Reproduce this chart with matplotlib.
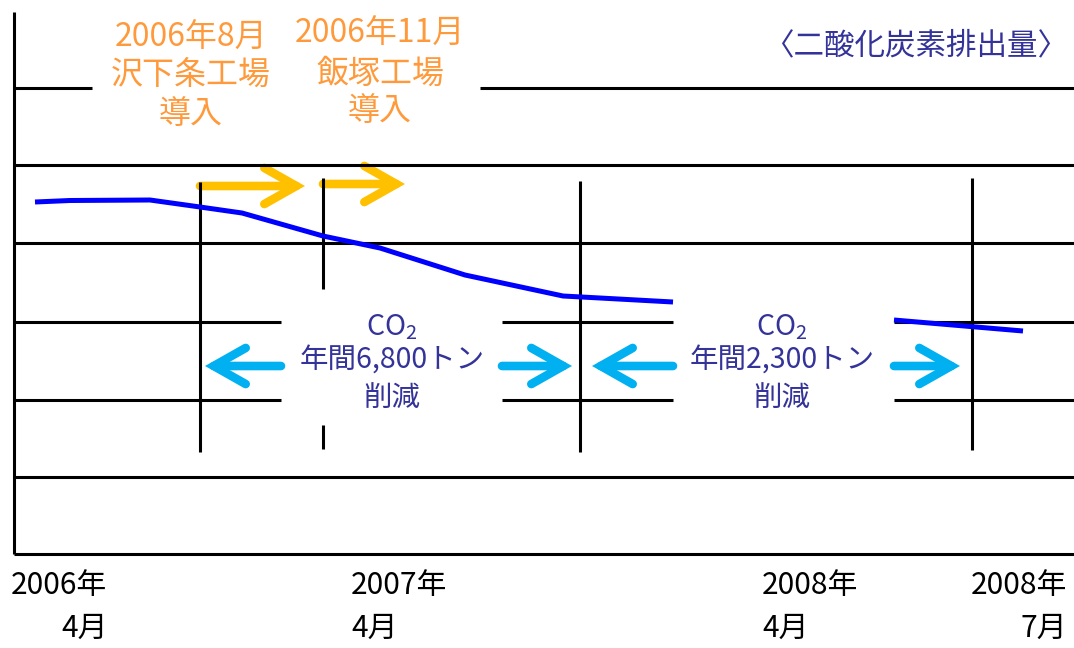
import matplotlib.pyplot as plt
from matplotlib.patches import FancyArrowPatch

plt.rcParams['font.family'] = ['Noto Sans CJK JP', 'DejaVu Sans']
plt.rcParams['mathtext.fontset'] = 'custom'
plt.rcParams['mathtext.rm'] = 'Noto Sans CJK JP'

# schematic chart, drawn on a canvas that runs 0..1074 across and 0..648 down
# blue emission curve, two pieces
line1_x = [35, 70, 150, 200, 242, 323, 380, 465, 563, 600, 673]
line1_y = [202, 200.5, 200, 207, 213, 236, 248, 275, 296, 298, 302]
line2_x = [894, 1023]
line2_y = [320, 331]

# horizontal grid lines: (y, x start, x end)
hlines = [(88, 14, 92), (88, 480, 1074),
          (165, 14, 1074), (243, 14, 1074),
          (322, 14, 281), (322, 502, 673), (322, 894, 1074),
          (400, 14, 281), (400, 502, 673), (400, 894, 1074),
          (477, 14, 1074), (554, 14, 1074)]
# vertical lines: (x, y top, y bottom)
vlines = [(14, 12, 554), (200, 182, 452), (323, 178, 289), (323, 425, 449),
          (580, 181, 452), (972, 178, 450)]

# arrows: (x from, x to, y)
yellow_arrows = [(200, 305, 186), (323, 405, 184)]
cyan_arrows = [(281, 205, 366), (502, 572, 366), (673, 592, 366), (894, 960, 366)]

plant_labels = [['2006年8月', '沢下条工場', '導入'], ['2006年11月', '飯塚工場', '導入']]
plant_x = [191, 380]
plant_y = [[38, 75, 114], [34, 74, 111]]

co2_labels = [[r'CO$_\mathrm{2}$', '年間6,800トン', '削減'], [r'CO$_\mathrm{2}$', '年間2,300トン', '削減']]
co2_x = [392, 782]
co2_y = [327, 361, 398]

year_labels = ['2006年', '2007年', '2008年', '2008年']
year_x = [11, 351, 762, 971]
month_labels = ['4月', '4月', '4月', '7月']
month_x = [61, 351, 762, 1021]

title = '〈二酸化炭素排出量〉'

fig = plt.figure(figsize=(10.74, 6.48), dpi=100)
ax = fig.add_axes([0, 0, 1, 1])
ax.set_xlim(0, 1074)
ax.set_ylim(648, 0)
ax.axis('off')

for y, x0, x1 in hlines:
    ax.plot([x0, x1], [y, y], color='black', lw=2.2, solid_capstyle='butt')
for x, y0, y1 in vlines:
    ax.plot([x, x], [y0, y1], color='black', lw=2.2, solid_capstyle='butt')

ax.plot(line1_x, line1_y, color='#0000FF', lw=3.6, solid_capstyle='butt')
ax.plot(line2_x, line2_y, color='#0000FF', lw=3.6, solid_capstyle='butt')

def arrow(x0, x1, y, color):
    p = FancyArrowPatch((x0, y), (x1, y), arrowstyle='->,head_length=0.46,head_width=0.26',
                        mutation_scale=50, color=color, lw=6.2, shrinkA=0, shrinkB=0,
                        capstyle='round', joinstyle='miter')
    ax.add_patch(p)

for x0, x1, y in yellow_arrows:
    arrow(x0, x1, y, '#FFC000')
for x0, x1, y in cyan_arrows:
    arrow(x0, x1, y, '#00B0F0')

for lines, x, ys in zip(plant_labels, plant_x, plant_y):
    for s, y in zip(lines, ys):
        ax.text(x, y, s, color='#FF9A3C', fontsize=23, ha='center', va='center')

for lines, x in zip(co2_labels, co2_x):
    for s, y in zip(lines, co2_y):
        ax.text(x, y, s, color='#333399', fontsize=20.5, ha='center', va='center')

ax.text(1068, 46, title, color='#333399', fontsize=22, ha='right', va='center')

for s, x in zip(year_labels, year_x):
    ax.text(x, 585, s, color='black', fontsize=21.5, ha='left', va='center')
for s, x in zip(month_labels, month_x):
    ax.text(x, 628, s, color='black', fontsize=21.5, ha='left', va='center')

fig.savefig('out.png', dpi=100)
